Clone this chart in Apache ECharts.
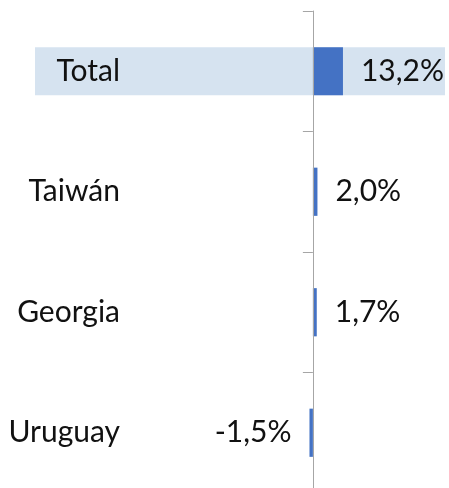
<!DOCTYPE html>
<html><head><meta charset="utf-8">
<script src="https://cdn.jsdelivr.net/npm/echarts@6/dist/echarts.min.js"></script>
<style>html,body{margin:0;padding:0;background:#fff}#c{width:449px;height:488px}</style>
</head><body><div id="c"></div>
<script>
const categories = ['Total', 'Taiwán', 'Georgia', 'Uruguay'];
const values = [13.2, 2.0, 1.7, -1.5];
const highlighted = ['Total'];
const axisMin = -122;
const axisMax = 58;

const FONT = 'Lato';
const chart = echarts.init(document.getElementById('c'), null, {renderer: 'canvas'});
const fmt = v => v.toFixed(1).replace('.', ',') + '%';
const hl = (v) => categories.map(c => highlighted.includes(c) ? v : '-');

chart.setOption({
  animation: false,
  grid: {left: 35, right: 4, top: 11, height: 482, containLabel: false, outerBoundsMode: 'none'},
  xAxis: {
    type: 'value', min: axisMin, max: axisMax, show: false
  },
  yAxis: {
    type: 'category', data: categories, inverse: true, z: 10,
    axisLine: {show: true, onZero: true, lineStyle: {color: '#a6a6a6', width: 1}},
    axisTick: {show: true, length: 10, lineStyle: {color: '#a6a6a6'}},
    axisLabel: {margin: -85, fontFamily: FONT, fontSize: 30, color: '#111', align: 'right'},
    splitLine: {show: false}
  },
  series: [
    {
      type: 'bar', silent: true, barWidth: '40%', barGap: '-100%', stack: 'hl',
      data: hl(axisMin), itemStyle: {color: '#d6e3f0'}, z: 1
    },
    {
      type: 'bar', silent: true, barWidth: '40%', barGap: '-100%', stack: 'hl',
      data: hl(axisMax), itemStyle: {color: '#d6e3f0'}, z: 1
    },
    {
      type: 'bar', barWidth: '40%', barGap: '-100%',
      data: values.map(v => ({
        value: v,
        label: {position: v >= 0 ? 'right' : 'left'}
      })),
      itemStyle: {color: '#4472c4'},
      label: {
        show: true, distance: 18, fontFamily: FONT, fontSize: 30, color: '#111',
        formatter: p => fmt(p.value)
      },
      z: 2
    }
  ]
});
</script>
</body></html>
